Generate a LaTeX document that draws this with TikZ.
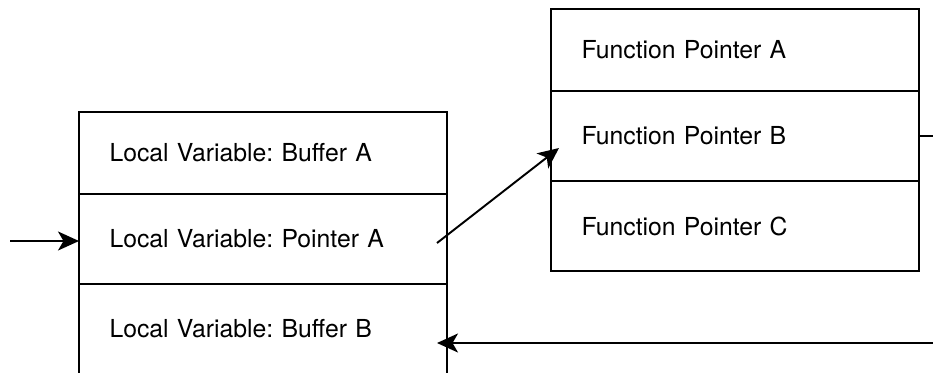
\documentclass[tikz,border=0pt]{standalone}
\usepackage{fontspec}
\setmainfont{TeX Gyre Heros}
\usetikzlibrary{positioning,arrows.meta}
\frenchspacing
\begin{document}
\begin{tikzpicture}[
		cell/.style={draw,line width=1.1pt,outer sep=0pt,text width=6.14cm,align=left,
			inner xsep=0.61cm,inner ysep=0pt,minimum height=#1,
			font=\fontsize{14.1}{17}\selectfont},
		cell/.default=1.8cm,
		arr/.style={line width=1.1pt,-{Stealth[length=0.42cm,width=0.38cm,inset=0.11cm]}}]
			\useasboundingbox (0,0) rectangle (18.66,7.44);
			\clip (0,0) rectangle (18.66,7.44);
			% stack on the left
			\node[cell=1.64cm,anchor=north west] (lvba) at (1.58,5.2) {Local Variable: Buffer A};
			\node[cell,below=0pt of lvba] (lvpa) {Local Variable: Pointer A};
			\node[cell,below=0pt of lvpa] (lvbb) {Local Variable: Buffer B};
			% table on the right
			\node[cell=1.64cm,anchor=north west] (fpa) at (11.02,7.26) {Function Pointer A};
			\node[cell,below=0pt of fpa] (fpb) {Function Pointer B};
			\node[cell,below=0pt of fpb] (fpc) {Function Pointer C};
			% free ends
			\coordinate (in) at (0.2,2.62);
			\coordinate (out) at (18.8,0.58);
			% arrows
			\draw[arr] (in) -- (in -| lvpa.west);
			\draw[arr] ([xshift=-0.2cm,yshift=-0.08cm]lvpa.east) -- ([xshift=0.16cm,yshift=-0.24cm]fpb.west);
			\draw[line width=1.1pt] (fpb.east) -- ++(0.4,0);
			\draw[arr] (out) -- ([xshift=-0.2cm]out -| lvbb.east);
		\end{tikzpicture}
\end{document}
